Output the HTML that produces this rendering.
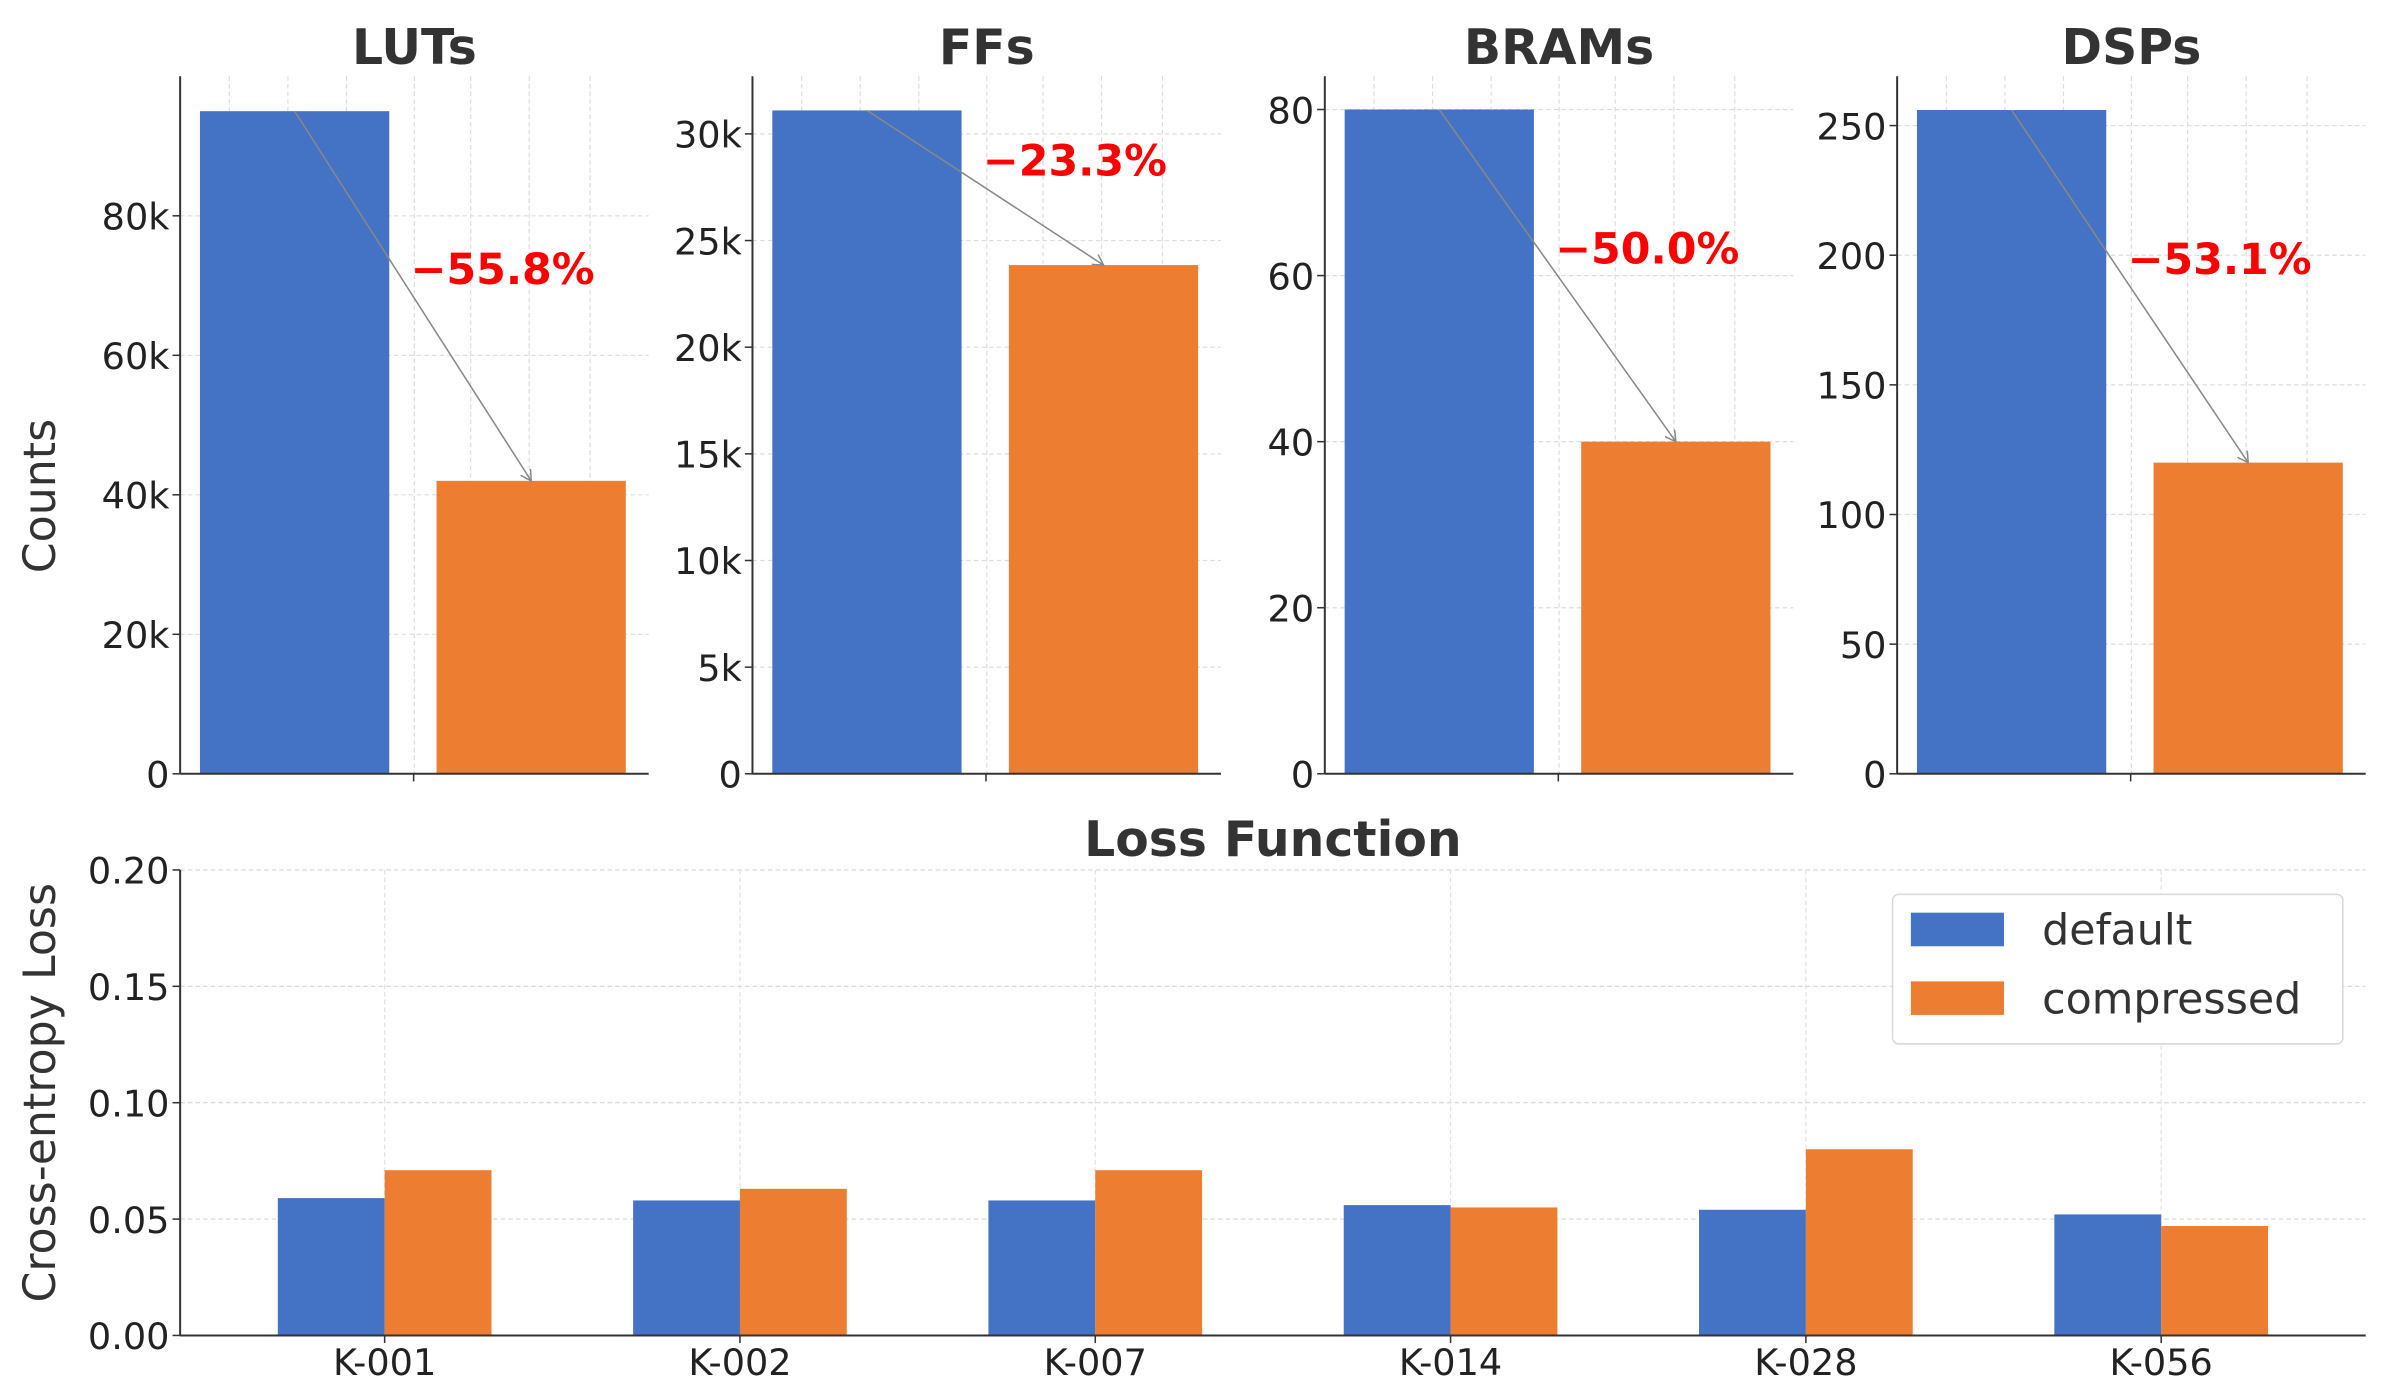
<!DOCTYPE html>
<html><head><meta charset="utf-8"><style>
html,body{margin:0;padding:0;background:#fff;}
svg{display:block;font-family:"DejaVu Sans","Liberation Sans",sans-serif;}
</style></head><body>
<svg id="chart" width="2381" height="1391" viewBox="0 0 1560 911.4" xmlns="http://www.w3.org/2000/svg"></svg>
<script>
const resourceNames = ["LUTs","FFs","BRAMs","DSPs"];
const defaultCounts = [95000, 31100, 80, 256];
const compressedCounts = [42000, 23850, 40, 120];
const reductionLabels = ["\u221255.8%","\u221223.3%","\u221250.0%","\u221253.1%"];
const resourceMax = [100000, 32700, 84, 269];
const resourceTicks = [[0,20000,40000,60000,80000],[0,5000,10000,15000,20000,25000,30000],[0,20,40,60,80],[0,50,100,150,200,250]];
const resourceTickLabels = [["0","20k","40k","60k","80k"],["0","5k","10k","15k","20k","25k","30k"],["0","20","40","60","80"],["0","50","100","150","200","250"]];
const lossCategories = ["K-001","K-002","K-007","K-014","K-028","K-056"];
const lossDefault = [0.059,0.058,0.058,0.056,0.054,0.052];
const lossCompressed = [0.071,0.063,0.071,0.055,0.080,0.047];
const lossTicks = [0,0.05,0.10,0.15,0.20];
const lossTickLabels = ["0.00","0.05","0.10","0.15","0.20"];

const NS="http://www.w3.org/2000/svg";
const svg=document.getElementById('chart');
function mk(tag,attrs,parent,text){const e=document.createElementNS(NS,tag);for(const k in attrs)e.setAttribute(k,attrs[k]);if(text!==undefined)e.textContent=text;(parent||svg).appendChild(e);return e;}
const BLUE="#4472C4",ORANGE="#ED7D31",TXT="#222";
mk('defs',{}).innerHTML='<marker id="ah" markerWidth="8" markerHeight="8" refX="7" refY="4" orient="auto" markerUnits="userSpaceOnUse"><path d="M0,0 L7,4 L0,8" fill="none" stroke="#888" stroke-width="1"/></marker>';

const panelX=[118,493,868,1243], pw=307, topY=50, botY=507;
resourceNames.forEach((name,i)=>{
  const g=mk('g',{});
  
  
  const x0=panelX[i], x1=x0+pw;
  const y=v=>botY-(v/resourceMax[i])*(botY-topY);
  [0.105,0.23,0.355,0.5,0.62,0.745,0.875].forEach(f=>mk('line',{x1:x0+pw*f,x2:x0+pw*f,y1:topY,y2:botY,stroke:"#ddd","stroke-width":0.8,"stroke-dasharray":"3,2"},g));
  resourceTicks[i].forEach((t,j)=>{
    const ty=y(t);
    if(t>0) mk('line',{x1:x0,x2:x1,y1:ty,y2:ty,stroke:"#ddd","stroke-width":0.8,"stroke-dasharray":"3,2"},g);
    mk('line',{x1:x0-5,x2:x0,y1:ty,y2:ty,stroke:"#333","stroke-width":1},g);
    const tl=mk('text',{x:x0-7,y:ty+9,"text-anchor":"end","font-size":24,fill:TXT},g,resourceTickLabels[i][j]);
    
    
  });
  const bw=124, bc0=x0+75, bc1=x0+230;
  const b1=mk('rect',{x:bc0-bw/2,y:y(defaultCounts[i]),width:bw,height:botY-y(defaultCounts[i]),fill:BLUE},g);
  
  
  const b2=mk('rect',{x:bc1-bw/2,y:y(compressedCounts[i]),width:bw,height:botY-y(compressedCounts[i]),fill:ORANGE},g);
  
  
  const ar=mk('line',{x1:bc0,y1:y(defaultCounts[i]),x2:bc1,y2:y(compressedCounts[i]),stroke:"#888","stroke-width":1,"marker-end":"url(#ah)"},g);
  
  
  const my=(y(defaultCounts[i])+y(compressedCounts[i]))/2;
  const lb=mk('text',{x:x0+151,y:my-8,"font-size":28,"font-weight":"bold",fill:"#FF0000"},g,reductionLabels[i]);
  
  
  mk('line',{x1:x0+153,x2:x0+153,y1:botY,y2:botY+5,stroke:"#333"},g);
  mk('line',{x1:x0,x2:x0,y1:topY,y2:botY,stroke:"#333","stroke-width":1.3},g);
  mk('line',{x1:x0,x2:x1,y1:botY,y2:botY,stroke:"#333","stroke-width":1.3},g);
  const tt=mk('text',{x:x0+pw/2,y:42,"text-anchor":"middle","font-size":32,"font-weight":"bold",fill:"#333"},g,name);
  
  
});
const cl=mk('text',{x:0,y:0,transform:"translate(36,325) rotate(-90)","text-anchor":"middle","font-size":29,fill:"#333"},svg,"Counts");



const lx0=118,lx1=1550,ltop=570,lbot=875;
const ly=v=>lbot-(v/0.2)*(lbot-ltop);
const c0=252;
const lxc=i=>c0+i*(1416-c0)/5;
const lg=mk('g',{});


lossCategories.forEach((c,i)=>mk('line',{x1:lxc(i),x2:lxc(i),y1:ltop,y2:lbot,stroke:"#e2e2e2","stroke-width":0.8,"stroke-dasharray":"3,2"},lg));
lossTicks.forEach((t,j)=>{
  if(t>0) mk('line',{x1:lx0,x2:lx1,y1:ly(t),y2:ly(t),stroke:"#d5d5d5","stroke-width":0.8,"stroke-dasharray":"3,2"},lg);
  mk('line',{x1:lx0-5,x2:lx0,y1:ly(t),y2:ly(t),stroke:"#333"},lg);
  const tl=mk('text',{x:lx0-7,y:ly(t)+9,"text-anchor":"end","font-size":24,fill:TXT},lg,lossTickLabels[j]);
  
  
});
const lbw=70;
lossCategories.forEach((c,i)=>{
  const cx=lxc(i);
  const r1=mk('rect',{x:cx-lbw,y:ly(lossDefault[i]),width:lbw,height:lbot-ly(lossDefault[i]),fill:BLUE},lg);
  
  
  const r2=mk('rect',{x:cx,y:ly(lossCompressed[i]),width:lbw,height:lbot-ly(lossCompressed[i]),fill:ORANGE},lg);
  
  
  mk('line',{x1:cx,x2:cx,y1:lbot,y2:lbot+5,stroke:"#333"},lg);
  const xl=mk('text',{x:cx,y:lbot+26,"text-anchor":"middle","font-size":24,fill:TXT},lg,c);
  
  
});
mk('line',{x1:lx0,x2:lx0,y1:ltop,y2:lbot,stroke:"#333","stroke-width":1.3},lg);
mk('line',{x1:lx0,x2:lx1,y1:lbot,y2:lbot,stroke:"#333","stroke-width":1.3},lg);
const lt=mk('text',{x:834,y:561,"text-anchor":"middle","font-size":32,"font-weight":"bold",fill:"#333"},lg,"Loss Function");


const ya=mk('text',{x:0,y:0,transform:"translate(36,716) rotate(-90)","text-anchor":"middle","font-size":29,fill:"#333"},lg,"Cross-entropy Loss");


const leg=mk('g',{});


mk('rect',{x:1240,y:586,width:295,height:98,rx:4,fill:"#fff",stroke:"#d8d8d8","stroke-width":1},leg);
const legItems=[["default",BLUE,609],["compressed",ORANGE,654]];
legItems.forEach(it=>{
  const e=mk('g',{},leg);
  
  
  mk('rect',{x:1252,y:it[2]-11,width:61,height:22,fill:it[1]},e);
  mk('text',{x:1338,y:it[2]+10,"font-size":28,fill:"#333"},e,it[0]);
});
</script>
</body></html>
